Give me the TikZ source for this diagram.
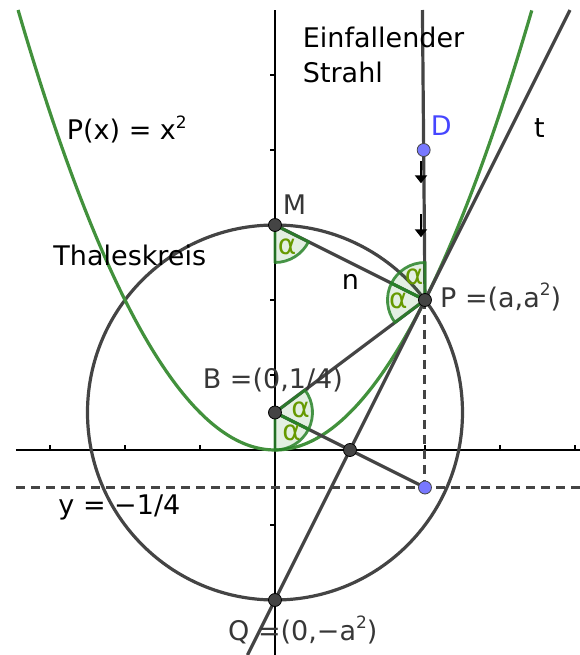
\documentclass[tikz,border=0pt]{standalone}
\usepackage{fontspec}
\setmainfont{DejaVu Sans}
\usetikzlibrary{arrows.meta,calc}
\definecolor{lgray}{RGB}{68,68,68}
\definecolor{pgreen}{RGB}{66,145,60}
\definecolor{agreen}{RGB}{102,153,0}
\definecolor{sgreen}{RGB}{40,130,40}
\definecolor{pblue}{RGB}{120,120,255}
\definecolor{dblue}{RGB}{70,70,255}
\definecolor{lblgray}{RGB}{55,55,55}
\newcommand\supii{\raisebox{0.42em}{\fontsize{17}{20}\selectfont 2}}
\begin{document}
\begin{tikzpicture}[x=150pt,y=150pt,
  geo/.style={draw=lgray,line width=3.2pt},
  dashln/.style={draw=lgray,line width=3pt,dash pattern=on 9pt off 6pt},
  axline/.style={draw=black,line width=1.2pt},
  txt/.style={inner sep=0pt,anchor=base west,font=\fontsize{27}{32}\selectfont},
  ptlabel/.style={txt,text=lblgray},
  alab/.style={inner sep=0pt,text=agreen,font=\fontsize{28}{32}\selectfont},
  angsec/.style={fill=pgreen,fill opacity=0.15,draw=sgreen,draw opacity=0.85,line width=2.8pt,line join=round},
  ptdot/.style={circle,fill=lgray,draw=black,line width=0.8pt,inner sep=0pt,minimum size=13pt},
  bluedot/.style={circle,fill=pblue,draw=lgray,line width=0.8pt,inner sep=0pt,minimum size=13pt},
  vecarrow/.style={draw=black,line width=2.2pt,-{Triangle[width=12pt,length=8pt]}}
]
\useasboundingbox (-1.8333,-1.3667) rectangle (2.0333,3.0);
% key points
\coordinate (O) at (0,0);
\coordinate (M) at (0,1.5);
\coordinate (P) at (1,1);
\coordinate (B) at (0,0.25);
\coordinate (Q) at (0,-1);
\coordinate (X) at (0.5,0);
\coordinate (F) at (1,-0.25);
\coordinate (R0) at (0.983,2.9333);
\coordinate (D) at ($(R0)!0.4828!(P)$);
\coordinate (T1) at (1.96667,2.9333);
\coordinate (T2) at (-0.18333,-1.3667);
\coordinate (XL) at (-1.7267,0);
\coordinate (XR) at (2.0333,0);
\coordinate (YB) at (0,-1.3667);
\coordinate (YT) at (0,2.9333);
\coordinate (HL) at (-1.7267,-0.25);
\coordinate (HR) at (2.0333,-0.25);
\coordinate (A1s) at (0.9733,1.925);
\coordinate (A1e) at (0.9733,1.778);
\coordinate (A2s) at (0.9733,1.57);
\coordinate (A2e) at (0.9733,1.418);

% axes
\draw[axline] (XL) -- (XR);
\draw[axline] (YB) -- (YT);
\foreach \u in {-1.5,-1,-0.5,0.5,1,1.5,2}
  \draw[black,line width=1.1pt] (\u,0) -- (\u,0.03);
\foreach \v in {-1,-0.5,0.5,1,1.5,2,2.5}
  \draw[black,line width=1.1pt] (0,\v) -- (-0.03,\v);

% dashed lines
\draw[dashln] (HL) -- (HR);
\draw[dashln] (P) -- (F);

% Thales circle
\draw[geo] (B) circle[radius=1.25];

% parabola
\draw[pgreen,line width=3.2pt] plot[domain=-1.7127:1.7127,samples=120,smooth] (\x,{\x*\x});

% lines
\draw[geo] (T2) -- (T1);
\draw[geo] (R0) -- (P);
\draw[geo] (M) -- (P);
\draw[geo] (B) -- (P);
\draw[geo] (B) -- (F);

% angle sectors
\path[angsec] (M) -- ++(-90:0.25) arc[start angle=-90,end angle=-26.565,radius=0.25] -- cycle;
\path[angsec] (P) -- ++(90:0.25) arc[start angle=90,end angle=153.435,radius=0.25] -- cycle;
\path[angsec] (P) -- ++(153.435:0.25) arc[start angle=153.435,end angle=216.87,radius=0.25] -- cycle;
\path[angsec] (B) -- ++(-90:0.25) arc[start angle=-90,end angle=-26.565,radius=0.25] -- cycle;
\path[angsec] (B) -- ++(-26.565:0.25) arc[start angle=-26.565,end angle=36.87,radius=0.25] -- cycle;

\node[alab] (aM) at (0.08,1.3533) {α};
\node[alab] (aP1) at (0.9267,1.1553) {α};
\node[alab] (aP2) at (0.822,0.9953) {α};
\node[alab] (aB1) at (0.1713,0.2667) {α};
\node[alab] (aB2) at (0.1113,0.1153) {α};

% direction arrows
\draw[vecarrow] (A1s) -- (A1e);
\draw[vecarrow] (A2s) -- (A2e);

% points
\node[ptdot] (Mn) at (M) {};
\node[ptdot] (Pn) at (P) {};
\node[ptdot] (Bn) at (B) {};
\node[ptdot] (Qn) at (Q) {};
\node[ptdot] (Xn) at (X) {};
\node[bluedot] (Fn) at (F) {};
\node[bluedot] (Dn) at (D) {};

% labels
\node[txt] (l1) at (0.1847,2.682) {Einfallender};
\node[txt] (l2) at (0.1847,2.4533) {Strahl};
\node[txt] (lpx) at (-1.3887,2.0667) {P(x) = x\supii};
\node[txt] (lth) at (-1.478,1.2267) {Thaleskreis};
\node[ptlabel] (lM) at (0.0513,1.5733) {M};
\node[txt] (ln) at (0.4447,1.0667) {n};
\node[txt,text=dblue] (lD) at (1.038,2.0953) {D};
\node[txt] (lt) at (1.7267,2.082) {t};
\node[ptlabel] (lP) at (1.1,0.9533) {P =(a,a\supii)};
\node[ptlabel] (lB) at (-0.482,0.4113) {B =(0,1/4)};
\node[txt] (ly) at (-1.4447,-0.4333) {y = −1/4};
\node[ptlabel] (lQ) at (-0.3133,-1.2667) {Q =(0,−a\supii)};
\end{tikzpicture}
\end{document}
